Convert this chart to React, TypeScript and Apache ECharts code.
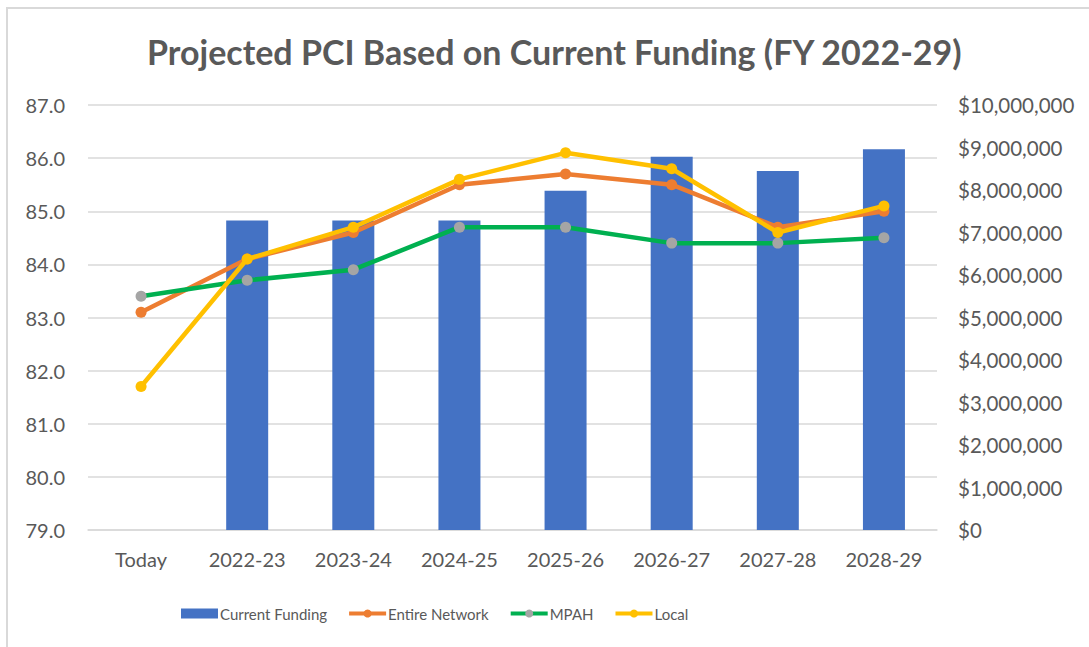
import React, { useEffect, useRef } from "react";
import * as echarts from "echarts";

const categories = ["Today", "2022-23", "2023-24", "2024-25", "2025-26", "2026-27", "2027-28", "2028-29"];
const currentFunding = [null, 7280000, 7280000, 7280000, 7980000, 8780000, 8450000, 8960000];
const entireNetwork = [83.1, 84.1, 84.6, 85.5, 85.7, 85.5, 84.7, 85.0];
const mpah = [83.4, 83.7, 83.9, 84.7, 84.7, 84.4, 84.4, 84.5];
const local = [81.7, 84.1, 84.7, 85.6, 86.1, 85.8, 84.6, 85.1];

const FONT = "Lato";
const TXT = "#595959";

export default function App() {
  const ref = useRef<HTMLDivElement>(null);
  useEffect(() => {
    if (!ref.current) return;
    const chart = echarts.init(ref.current, null, { renderer: "svg" });
    chart.setOption({
      animation: false,
      backgroundColor: "#ffffff",
      textStyle: { fontFamily: FONT },
      title: {
        text: "Projected PCI Based on Current Funding (FY 2022-29)",
        left: 142,
        top: 29,
        textStyle: { fontFamily: FONT, fontSize: 34, fontWeight: "bold", color: TXT },
      },
      graphic: [
        {
          type: "rect",
          shape: { x: 7, y: 8, width: 1200, height: 800 },
          style: { fill: "none", stroke: "#d9d9d9", lineWidth: 2 },
          silent: true,
        },
      ],
      legend: {
        left: 176,
        top: 601,
        itemWidth: 37,
        itemHeight: 10,
        itemGap: 20,
        lineStyle: { width: 4 },
        textStyle: { fontFamily: FONT, fontSize: 15, color: TXT, padding: [0, 0, 0, -3] },
        data: [
          { name: "Current Funding", icon: "rect" },
          { name: "Entire Network" },
          { name: "MPAH" },
          { name: "Local" },
        ],
      },
      grid: { left: 88, right: 152, top: 105, bottom: 117, containLabel: false },
      xAxis: {
        type: "category",
        data: categories,
        axisLine: { show: true, lineStyle: { color: "#d9d9d9", width: 1.5 } },
        axisTick: { show: false },
        axisLabel: { color: TXT, fontSize: 20, fontFamily: FONT, margin: 19 },
      },
      yAxis: [
        {
          type: "value",
          min: 79,
          max: 87,
          interval: 1,
          position: "left",
          axisLine: { show: false },
          axisTick: { show: false },
          splitLine: { lineStyle: { color: "#d9d9d9", width: 1.5 } },
          axisLabel: {
            color: TXT,
            fontSize: 20,
            fontFamily: FONT,
            margin: 23,
            formatter: (v: number) => v.toFixed(1),
          },
        },
        {
          type: "value",
          min: 0,
          max: 10000000,
          interval: 1000000,
          position: "right",
          axisLine: { show: false },
          axisTick: { show: false },
          splitLine: { show: false },
          axisLabel: {
            color: TXT,
            fontSize: 20.5,
            fontFamily: FONT,
            margin: 21,
            formatter: (v: number) => "$" + v.toLocaleString("en-US"),
          },
        },
      ],
      series: [
        {
          name: "Current Funding",
          type: "bar",
          yAxisIndex: 1,
          data: currentFunding,
          barWidth: 42,
          itemStyle: { color: "#4472C4" },
          z: 1,
        },
        {
          name: "Entire Network",
          type: "line",
          yAxisIndex: 0,
          data: entireNetwork,
          symbol: "circle",
          symbolSize: 11,
          lineStyle: { color: "#ED7D31", width: 4.5 },
          itemStyle: { color: "#ED7D31" },
          z: 3,
        },
        {
          name: "MPAH",
          type: "line",
          yAxisIndex: 0,
          data: mpah,
          symbol: "circle",
          symbolSize: 11,
          lineStyle: { color: "#00B050", width: 4.5 },
          itemStyle: { color: "#A5A5A5" },
          z: 4,
        },
        {
          name: "Local",
          type: "line",
          yAxisIndex: 0,
          data: local,
          symbol: "circle",
          symbolSize: 11,
          lineStyle: { color: "#FFC000", width: 4.5 },
          itemStyle: { color: "#FFC000" },
          z: 5,
        },
      ],
    });
    return () => chart.dispose();
  }, []);
  return (
    <div
      ref={ref}
      style={{ position: "absolute", left: 0, top: 0, width: 1089, height: 647 }}
    />
  );
}
